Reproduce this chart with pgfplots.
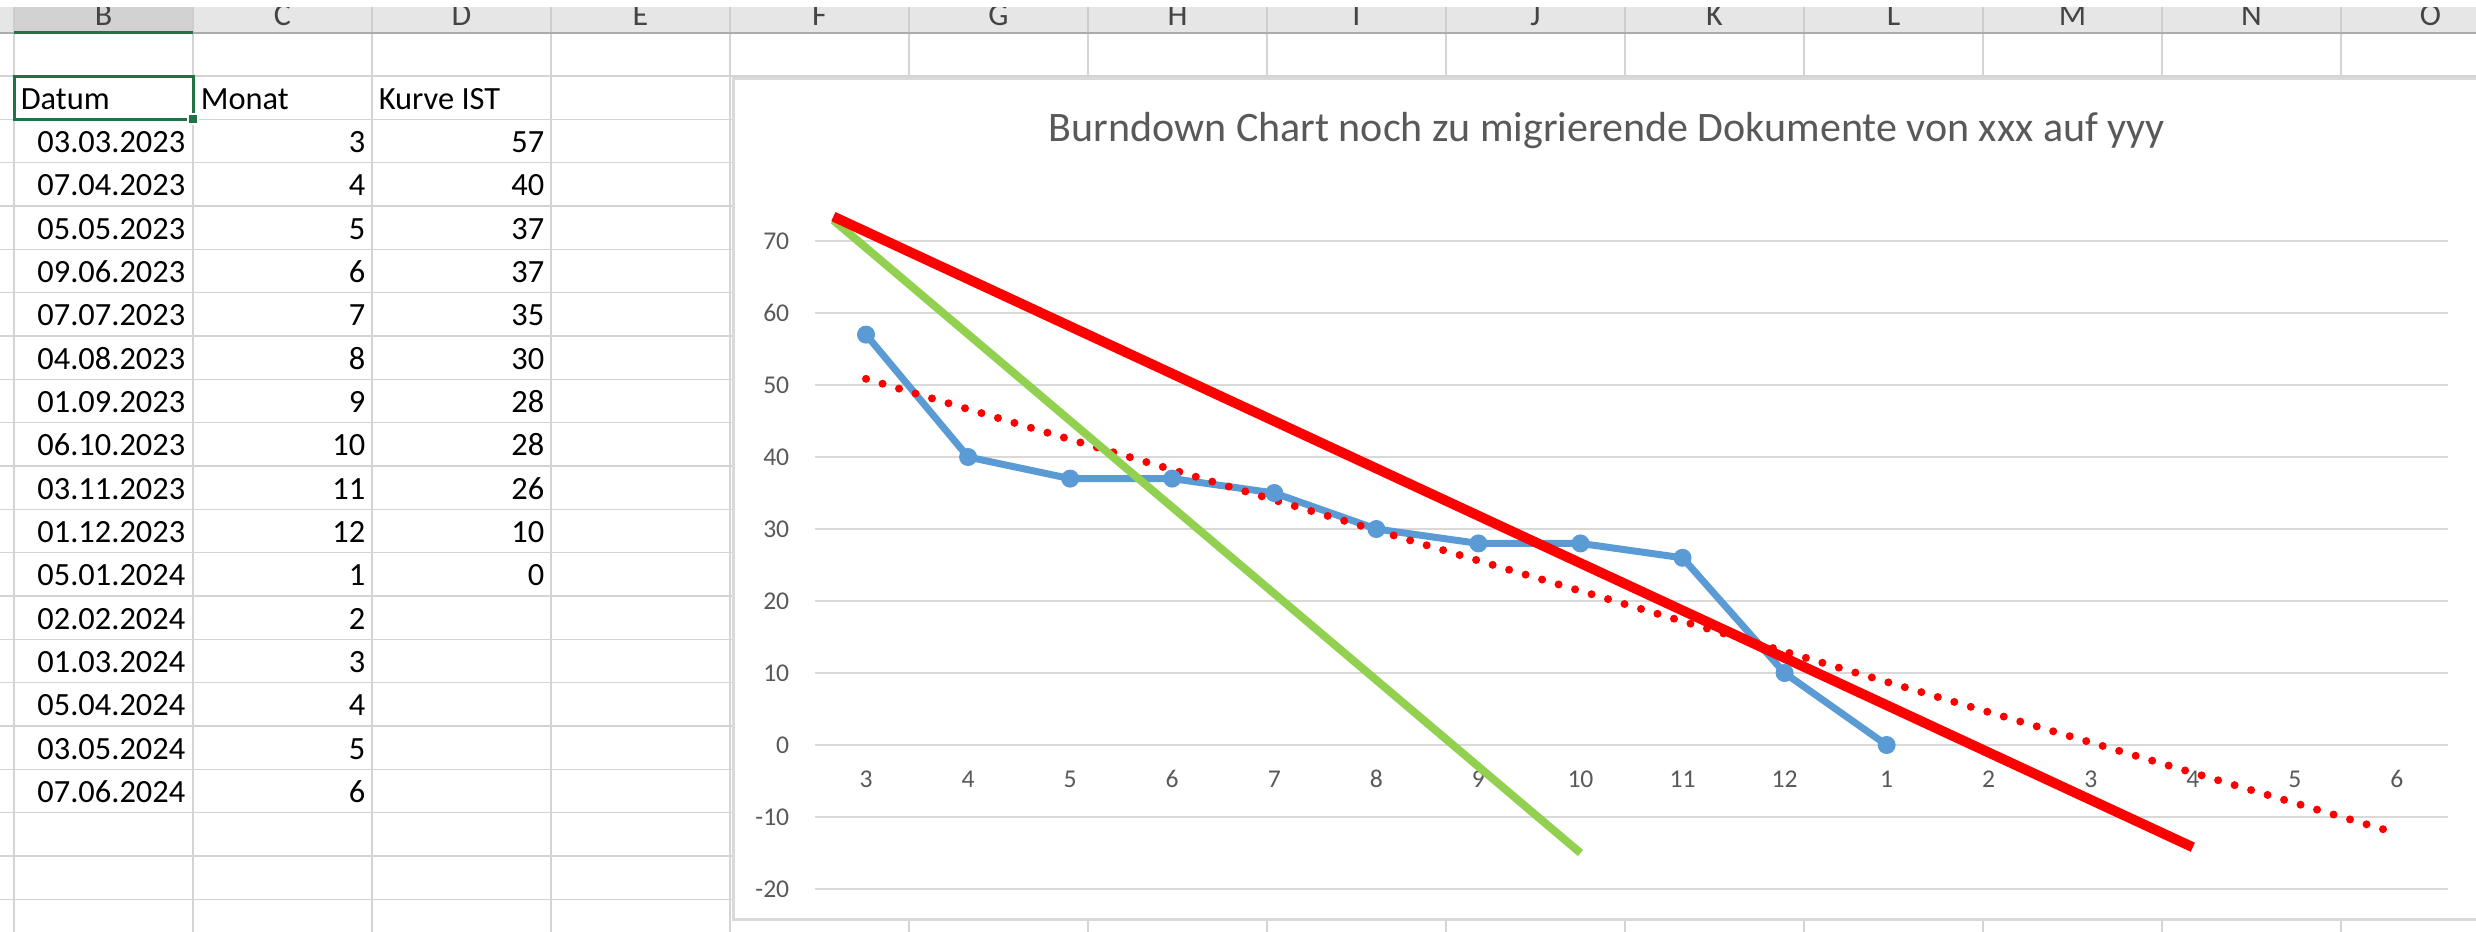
\documentclass[border=0pt]{standalone}
\usepackage{pgfplots}
\pgfplotsset{compat=1.18}
\usepackage{fontspec}
\setmainfont{Carlito}
\definecolor{ist}{HTML}{5B9BD5}
\definecolor{trgreen}{HTML}{92D050}
\definecolor{gridgray}{HTML}{D9D9D9}
\definecolor{tickgray}{HTML}{595959}
\definecolor{cellline}{HTML}{D4D4D4}
\definecolor{hdrfill}{HTML}{E6E6E6}
\definecolor{hdrsel}{HTML}{D2D2D2}
\definecolor{hdrline}{HTML}{ABABAB}
\definecolor{xlgreen}{HTML}{217346}
\definecolor{lettercol}{HTML}{444444}
\begin{document}
\begin{tikzpicture}
\path[use as bounding box] (0,0) rectangle (619pt,-233pt);
\clip (0,0) rectangle (619pt,-233pt);
\fill[white] (0,0) rectangle (619pt,-233pt);
\begin{scope}[x=0.25pt,y=-0.25pt]
  % column header band
  \fill[hdrfill] (0,7) rectangle (2476,33);
  \fill[hdrsel] (14,7) rectangle (193,33);
  \foreach \c in {14,193,...,2520} {
    \draw[color=hdrline!60, line width=0.3pt] (\c,7) -- (\c,33);
  }
  \begin{scope}
    \clip (0,7) rectangle (2476,33);
    \foreach \l [count=\i from 0] in {B,C,D,E,F,G,H,I,J,K,L,M,N,O} {
      \node[anchor=base, inner sep=0pt, text=lettercol, font=\fontsize{8pt}{9pt}\selectfont] at ({103.5+179*\i},25) {\l};
    }
  \end{scope}
  % cell grid
  \foreach \c in {14,193,...,2520} {
    \draw[cellline, line width=0.35pt] (\c,34) -- (\c,932);
  }
  \foreach \k in {0,...,19} {
    \draw[cellline, line width=0.35pt] (0,{76+43.33*\k}) -- (2476,{76+43.33*\k});
  }
  \draw[hdrline, line width=0.5pt] (0,33) -- (2476,33);
  \draw[xlgreen, line width=0.75pt] (14,32) -- (193,32);
  % cell texts
  \begin{scope}[every node/.style={inner sep=0pt, font=\fontsize{8.1pt}{9pt}\selectfont}]
    \node[anchor=base west] at (20,109.3) {Datum};
    \node[anchor=base west] at (200,109.3) {Monat};
    \node[anchor=base west] at (378,109.3) {Kurve IST};
    \foreach \d/\m [count=\r] in {03.03.2023/3,07.04.2023/4,05.05.2023/5,09.06.2023/6,07.07.2023/7,04.08.2023/8,01.09.2023/9,06.10.2023/10,03.11.2023/11,01.12.2023/12,05.01.2024/1,02.02.2024/2,01.03.2024/3,05.04.2024/4,03.05.2024/5,07.06.2024/6} {
      \node[anchor=base east] at (186,{109.3+43.33*\r}) {\d};
      \node[anchor=base east] at (366,{109.3+43.33*\r}) {\m};
    }
    \foreach \v [count=\r] in {57,40,37,37,35,30,28,28,26,10,0} {
      \node[anchor=base east] at (545,{109.3+43.33*\r}) {\v};
    }
  \end{scope}
  % selected cell
  \draw[xlgreen, line width=0.75pt] (14,76) rectangle (193,119.3);
  \fill[white] (187,113) rectangle (199,125);
  \fill[xlgreen] (189,115) rectangle (197,123);
  % chart area
  \filldraw[fill=white, draw=gridgray, line width=0.75pt] (733,78) rectangle (2500,919);
  \node[anchor=base, inner sep=0pt, text=tickgray, font=\fontsize{10.5pt}{12pt}\selectfont] at (1607,141.7) {Burndown Chart noch zu migrierende Dokumente von xxx auf yyy};
\end{scope}
\begin{axis}[
  at={(203.75pt,-222.25pt)}, anchor=south west,
  width=408.25pt, height=162pt, scale only axis,
  xmin=-0.5, xmax=15.5, ymin=-20, ymax=70,
  axis line style={draw=none},
  major tick length=0pt,
  ytick={-20,-10,0,10,20,30,40,50,60,70},
  xtick={0,1,2,3,4,5,6,7,8,9,10,11,12,13,14,15},
  xticklabels={3,4,5,6,7,8,9,10,11,12,1,2,3,4,5,6},
  ymajorgrids,
  grid style={color=gridgray, line width=0.5pt},
  tick label style={font=\fontsize{6.4pt}{7pt}\selectfont, text=tickgray},
  /pgf/number format/assume math mode=true,
  yticklabel style={anchor=east, inner sep=0pt, xshift=-6.25pt},
  xticklabel style={anchor=center, inner sep=0pt, yshift=27.5pt},
  clip=false,
]
\addplot[color=ist, line width=1.75pt, mark=*, mark size=2pt, mark options={solid, fill=ist, line width=0.5pt}] coordinates {
  (0,57) (1,40) (2,37) (3,37) (4,35) (5,30) (6,28) (7,28) (8,26) (9,10) (10,0)
};
\addplot[color=red, line width=2pt, line cap=round, dash pattern=on 0pt off 4.3pt] coordinates {
  (0,50.86) (15,-12.27)
};
\addplot[color=trgreen, line width=2pt] coordinates {
  (-0.32,72.9) (7,-15)
};
\addplot[color=red, line width=2.5pt] coordinates {
  (-0.32,73.4) (13,-14.2)
};
\end{axis}
\end{tikzpicture}
\end{document}
